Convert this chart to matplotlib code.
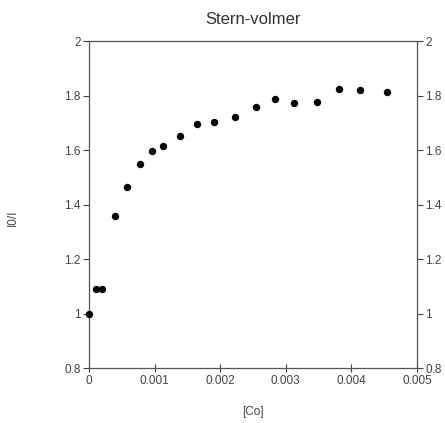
import numpy as np
import matplotlib
matplotlib.use("Agg")
import matplotlib.pyplot as plt

plt.rcParams['font.family'] = ['Liberation Sans', 'DejaVu Sans']

# Data
conc = [0.0, 0.00011, 0.0002, 0.0004, 0.00058, 0.00078, 0.00096, 0.00113,
        0.00139, 0.00165, 0.00191, 0.00223, 0.00254, 0.00284, 0.00312,
        0.00347, 0.00381, 0.00413, 0.00454]
ratio = [1.0, 1.09, 1.09, 1.358, 1.464, 1.549, 1.596, 1.615,
         1.651, 1.695, 1.703, 1.721, 1.758, 1.787, 1.772,
         1.776, 1.824, 1.82, 1.813]
xticks = [0, 0.001, 0.002, 0.003, 0.004, 0.005]
xticklabels = ["0", "0.001", "0.002", "0.003", "0.004", "0.005"]
yticks = [0.8, 1.0, 1.2, 1.4, 1.6, 1.8, 2.0]
yticklabels = ["0.8", "1", "1.2", "1.4", "1.6", "1.8", "2"]

txt = '#444444'
fig = plt.figure(figsize=(4.45, 4.23), dpi=100)
ax = fig.add_axes([0.2, 0.13, 0.737, 0.773])
ax.plot(conc, ratio, 'o', color='black', ms=4.3, clip_on=False, zorder=3)

ax.set_xlim(0, 0.005)
ax.set_ylim(0.8, 2.0)
ax.set_xticks(xticks)
ax.set_xticklabels(xticklabels)
ax.set_yticks(yticks)
ax.set_yticklabels(yticklabels)
ax.tick_params(axis='x', direction='inout', length=6, labelsize=8.5, colors=txt, pad=2)
ax.tick_params(axis='y', direction='out', length=4, labelsize=8.5, colors=txt,
               right=True, labelright=True, pad=2)
for s in ax.spines.values():
    s.set_color('#555555')
    s.set_linewidth(0.9)

ax.set_title("Stern-volmer", fontsize=12, color='#333333', pad=12)
ax.set_xlabel("[Co]", fontsize=8.5, color=txt, labelpad=14)
fig.text(0.03, 0.485, "I0/I", rotation=90, fontsize=8.5, color=txt, va='center', ha='center')

fig.savefig("out.png", dpi=100, facecolor='white')
